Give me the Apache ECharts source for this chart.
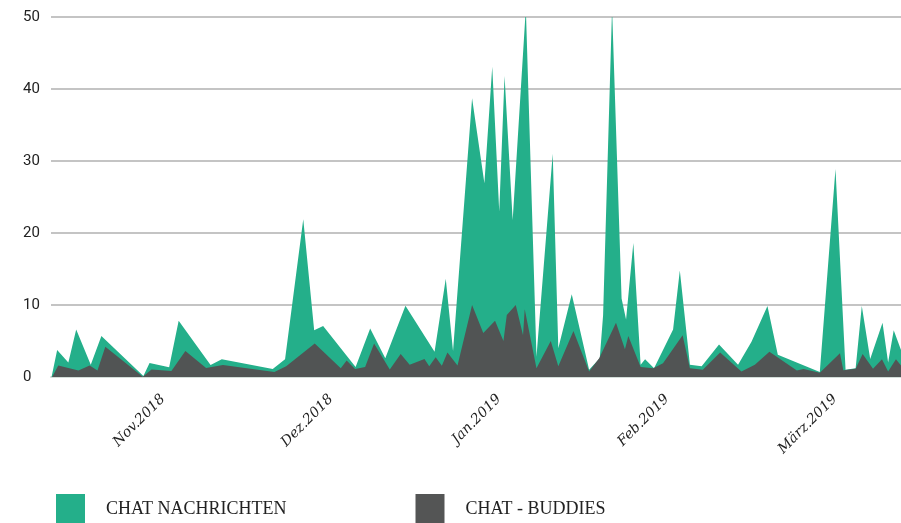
<!DOCTYPE html>
<html>
<head>
    <meta charset="utf-8" />
    <title>Chat Nachrichten / Buddies</title>
    <script src="https://cdn.jsdelivr.net/npm/echarts@6/dist/echarts.min.js"></script>
    <style type="text/css">
        html, body { margin: 0; padding: 0; background: #fff; }
        #chart { width: 901px; height: 523px; }
    </style>
</head>
<body>
    <div id="chart"></div>
    <script>
        // Startdatum der Zeitachse, Werte als Tage ab Start
        var startDate = [2018, 10, 14];
        var spanDays = 151.8;

        // Chat Nachrichten
        var msgDays = [0.1, 1.1, 3.1, 4.5, 7.1, 9.0, 16.5, 17.6, 21.1, 22.8, 28.5, 30.5, 39.6, 41.8,
            45.05, 47.0, 48.6, 54.4, 57.0, 59.7, 63.3, 68.5, 70.5, 71.8, 75.2, 77.4, 78.8, 80.05,
            81.0, 82.45, 84.8, 86.7, 89.6, 90.6, 93.0, 96.1, 98.0, 98.6, 100.2, 101.9, 102.7, 104.0,
            105.3, 106.1, 107.7, 111.1, 112.3, 114.1, 116.2, 119.3, 122.7, 125.1, 127.95, 129.8,
            137.3, 140.1, 141.9, 143.7, 144.8, 146.3, 148.5, 149.5, 150.5, 151.8];
        var msgValues = [0, 3.75, 2.0, 6.6, 1.7, 5.7, 0.15, 1.95, 1.35, 7.8, 1.67, 2.45, 1.1, 2.45,
            21.9, 6.5, 7.1, 1.4, 6.75, 2.6, 9.9, 3.5, 13.65, 3.6, 38.7, 26.9, 43.1, 23.0,
            41.8, 21.8, 51.2, 2.8, 31.0, 4.0, 11.5, 1.0, 2.6, 8.6, 51.2, 10.9, 8.0, 18.6,
            1.7, 2.45, 1.2, 6.6, 14.8, 1.7, 1.5, 4.5, 1.7, 4.9, 9.85, 3.1,
            0.7, 28.9, 1.0, 1.2, 9.85, 2.5, 7.55, 2.0, 6.5, 3.75];

        // Chat - Buddies
        var buddyDays = [0.2, 1.3, 4.9, 6.9, 8.3, 9.7, 16.4, 17.95, 21.5, 24.0, 27.7, 30.7, 39.9, 42.0,
            47.1, 51.75, 52.8, 54.3, 56.1, 57.7, 60.5, 62.45, 64.05, 66.7, 67.55, 68.7, 69.8, 70.8,
            72.6, 75.2, 77.2, 79.3, 80.8, 81.4, 83.0, 84.3, 84.6, 86.7, 89.25, 90.6, 93.3, 96.1,
            97.9, 100.9, 102.5, 103.1, 105.3, 107.55, 109.3, 112.8, 114.1, 116.4, 119.5, 123.3,
            125.7, 128.3, 133.2, 134.4, 137.3, 140.9, 141.5, 143.7, 144.95, 146.8, 148.4, 149.5,
            150.9, 151.8];
        var buddyValues = [0, 1.6, 0.9, 1.6, 0.9, 4.2, 0.05, 1.05, 0.85, 3.6, 1.25, 1.67, 0.7, 1.5,
            4.65, 1.2, 2.3, 1.1, 1.4, 4.65, 1.05, 3.2, 1.7, 2.5, 1.5, 2.75, 1.55, 3.4,
            1.6, 10.0, 6.1, 7.8, 5.0, 8.6, 10.0, 5.8, 9.4, 1.2, 5.0, 1.5, 6.4, 0.75,
            2.6, 7.55, 3.85, 5.7, 1.4, 1.2, 1.9, 5.8, 1.2, 1.0, 3.4, 0.75,
            1.7, 3.5, 0.9, 1.1, 0.6, 3.3, 0.95, 1.15, 3.2, 1.15, 2.45, 0.75,
            2.45, 1.6];

        // Beschriftete Zeitpunkte der x-Achse (Tage ab Start: 3.Nov, 3.Dez, 2.Jan, 1.Feb, 3.März)
        var tickDays = [20, 50, 80, 110, 140];
        var monthNames = ['Jan', 'Feb', 'März', 'Apr', 'Mai', 'Jun', 'Jul', 'Aug', 'Sep', 'Okt', 'Nov', 'Dez'];
        var yTicks = [0, 10, 20, 30, 40, 50];

        var DAY = 24 * 3600 * 1000;
        var t0 = new Date(startDate[0], startDate[1] - 1, startDate[2], 12).getTime();

        function toPoints(days, values) {
            return days.map(function (d, i) { return [d, values[i]]; });
        }

        var chart = echarts.init(document.getElementById('chart'));

        var option = {
            animation: false,
            grid: { left: 51, right: 0, top: 17, bottom: 146 },
            legend: {
                left: 56,
                top: 494,
                padding: 0,
                itemWidth: 29,
                itemHeight: 30,
                itemGap: 129,
                icon: 'rect',
                textStyle: {
                    fontFamily: 'Liberation Serif',
                    fontSize: 18,
                    color: '#222',
                    padding: [0, 0, 0, 16]
                },
                data: ['CHAT NACHRICHTEN', 'CHAT - BUDDIES']
            },
            xAxis: {
                type: 'value',
                min: 0,
                max: spanDays,
                axisLine: { show: true, lineStyle: { color: '#d3ddd9', width: 2 } },
                axisTick: { show: false },
                splitLine: { show: false },
                axisLabel: {
                    customValues: tickDays,
                    rotate: 45,
                    margin: 20,
                    fontFamily: 'DejaVu Serif',
                    fontStyle: 'italic',
                    fontSize: 14,
                    color: '#222',
                    formatter: function (v) {
                        var d = new Date(t0 + v * DAY);
                        return monthNames[d.getMonth()] + '.' + d.getFullYear();
                    }
                }
            },
            yAxis: {
                type: 'value',
                min: yTicks[0],
                max: yTicks[yTicks.length - 1],
                interval: 10,
                axisLine: { show: false },
                axisTick: { show: false },
                splitLine: { lineStyle: { color: '#c4c4c4', width: 2 } },
                axisLabel: {
                    align: 'left',
                    margin: 28,
                    fontFamily: 'Roboto',
                    fontSize: 15,
                    color: '#222'
                }
            },
            series: [
                {
                    name: 'CHAT NACHRICHTEN',
                    type: 'line',
                    data: toPoints(msgDays, msgValues),
                    symbol: 'none',
                    itemStyle: { color: '#24af8a' },
                    lineStyle: { width: 0 },
                    areaStyle: { color: '#24af8a', opacity: 1 }
                },
                {
                    name: 'CHAT - BUDDIES',
                    type: 'line',
                    data: toPoints(buddyDays, buddyValues),
                    symbol: 'none',
                    itemStyle: { color: '#545555' },
                    lineStyle: { width: 0 },
                    areaStyle: { color: '#515454', opacity: 1 }
                }
            ]
        };

        chart.setOption(option);
    </script>
</body>
</html>
